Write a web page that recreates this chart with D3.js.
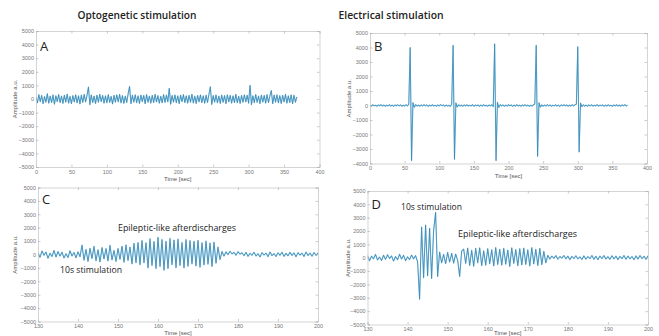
<!DOCTYPE html>
<html>
<head>
<meta charset="utf-8">
<script src="https://cdn.jsdelivr.net/npm/d3@7"></script>
<style>
  body { margin: 0; background: #fff; }
  svg { display: block; }
</style>
</head>
<body>
<svg id="chart" width="659" height="336"></svg>
<script>
// ---- data (amplitude samples, a.u.) ----
// A: optogenetic, full recording, one sample every 2 s from t = 0
const A_START = 0, A_STEP = 2;
const A_VALUES = [
  150,-280,320,-200,260,-350,180,-240,390,-310,
  220,-260,300,-380,240,-190,330,-270,210,-320,
  280,-230,360,-300,190,-340,250,-210,310,-280,
  230,-360,290,-250,340,-220,270,880,-420,300,
  -260,220,-330,280,-240,350,-200,260,-310,230,
  -280,320,-250,190,-360,270,-230,300,-210,340,
  -290,250,-320,210,-260,380,920,-350,280,-240,
  310,-270,230,-330,290,-200,260,-350,320,-240,
  210,-300,270,-260,340,-220,250,-310,200,-280,
  330,-250,290,-210,780,-380,260,-230,300,-270,
  240,-340,280,-200,320,-260,230,-300,270,-240,
  350,-290,210,-330,260,-220,300,-270,240,-310,
  280,-250,330,900,-400,260,-230,300,-280,220,
  -320,290,-240,250,-350,310,-210,270,-300,230,
  -260,340,-280,200,-330,260,-240,300,-220,280,
  -310,1000,-420,240,-270,330,-250,210,-340,290,
  -230,260,-300,320,-260,230,620,-350,290,-240,
  310,-280,250,-330,270,-220,340,-300,230,-260,
  300,-350,280,-240,150
];

// B: electrical, full recording, one sample every 2 s from t = 0
const B_START = 0, B_STEP = 2;
const B_VALUES = [
  30,-40,50,-30,20,-50,40,-20,60,-40,
  30,-50,20,-30,50,-40,30,-60,40,-20,
  50,-30,40,-50,20,-40,60,-30,80,4000,
  -3800,200,-120,60,-40,30,-50,40,-30,50,
  -20,40,-60,30,-40,50,-30,20,-50,40,
  -30,60,-20,40,-50,30,-40,20,-60,90,
  4150,-3700,180,-100,50,-40,30,-50,40,-30,
  50,-40,20,-30,60,-50,30,-20,40,-50,
  30,-40,50,-30,20,-60,40,-30,50,-80,
  4250,-3800,220,-130,60,-30,40,-50,30,-40,
  50,-20,40,-60,30,-40,50,-30,20,-50,
  40,-30,60,-40,30,-50,20,-40,50,100,
  4150,-3500,190,-110,40,-50,30,-40,60,-30,
  40,-50,20,-30,50,-40,30,-60,40,-20,
  50,-30,40,-50,20,-40,60,-30,50,90,
  4050,-3200,170,-90,50,-40,30,-50,40,-30,
  50,-40,20,-30,60,-50,30,-20,40,-50,
  30,-40,50,-30,20,-60,40,-30,50,-40,
  30,-50,40,-20,60,-30,20
];

// C: optogenetic, zoom 130-200 s, one sample every 0.5 s
const C_START = 130, C_STEP = 0.5;
const C_VALUES = [
  120,-210,260,-60,180,-280,90,-150,300,-190,
  220,-120,170,-260,60,-230,280,-110,150,-240,
  200,-170,
  700,-420,380,-520,460,-300,610,-470,350,-560,
  520,-330,440,-480,680,-400,300,-520,450,-360,
  620,-580,720,-450,560,-700,840,-620,
  900,-760,1050,-620,880,-1000,1180,-820,960,-1050,
  1280,-900,1120,-1180,980,-1050,1200,-760,1080,-980,
  1150,-820,900,-1000,1120,-880,1040,-700,980,-860,
  1060,-940,880,-780,1000,-720,860,-900,920,-650,
  560,-380,220,-120,
  200,-10,240,40,160,-60,210,30,130,-90,
  160,-140,90,-60,170,-120,60,-180,140,-40,
  110,-160,180,-90,70,-150,130,-60,170,-140,
  90,-100,160,-70,120,-170,140,-50,100,-150,
  180,-80,110,-130,150,-60,120
];

// D: electrical, zoom 130-200 s, one sample every 0.5 s
const D_START = 130, D_STEP = 0.5;
const D_VALUES = [
  160,-230,120,-80,250,-170,60,-210,190,-120,
  230,-60,140,-250,90,-150,260,-100,180,-220,
  70,-140,200,-90,160,-300,
  -3100,2300,-1500,2450,-1350,2200,-1550,2050,3400,-1400,
  420,-380,260,-450,400,-320,330,-400,280,-200,
  -1400,500,
  650,-420,720,-580,560,-640,700,-380,740,-600,
  520,-560,680,-450,600,-620,760,-500,640,-560,
  700,-480,580,-650,740,-420,620,-600,680,-540,
  720,-500,600,-620,760,-460,640,-580,700,-520,
  480,-380,
  180,-100,130,-50,160,-110,90,-30,170,-80,
  120,-140,100,-60,150,-90,70,-130,140,-110,
  90,-70,170,-120,110,-150,130,-60,160,-100,
  80,-120,150,-90,120,-140,100,-70,170,-110,
  130,-80,90,-150,140,-100,160,-60,110,-120,
  150
];

const FULL_X_TICKS = [0, 50, 100, 150, 200, 250, 300, 350, 400];
const ZOOM_X_TICKS = [130, 140, 150, 160, 170, 180, 190, 200];
const Y_TICKS_10K = [5000, 4000, 3000, 2000, 1000, 0, -1000, -2000, -3000, -4000, -5000];
const Y_TICKS_9K = [5000, 4000, 3000, 2000, 1000, 0, -1000, -2000, -3000, -4000];

const TITLES = ['Optogenetic stimulation', 'Electrical stimulation'];

// ---- drawing ----
const svg = d3.select('#chart');
const TICK_FONT = 'Liberation Sans, Arial, sans-serif';
const NOTE_FONT = "'Open Sans', 'Noto Sans', sans-serif";

function drawPanel(cfg) {
  const x = d3.scaleLinear().domain(cfg.xDomain).range([cfg.left, cfg.right]);
  const y = d3.scaleLinear().domain(cfg.yDomain).range([cfg.bottom, cfg.top]);
  const g = svg.append('g');

  const clipId = 'clip' + cfg.letter;
  g.append('clipPath').attr('id', clipId)
    .append('rect')
    .attr('x', cfg.left).attr('y', cfg.top)
    .attr('width', cfg.right - cfg.left).attr('height', cfg.bottom - cfg.top);

  const line = d3.line()
    .x((d, i) => x(cfg.start + i * cfg.step))
    .y(d => y(d));

  // light halo + darker core, like the overlapping traces of the original
  g.append('path')
    .datum(cfg.values)
    .attr('clip-path', 'url(#' + clipId + ')')
    .attr('fill', 'none')
    .attr('stroke', '#6db6da')
    .attr('stroke-width', 1.1)
    .attr('stroke-linejoin', 'round')
    .attr('d', line);
  g.append('path')
    .datum(cfg.values)
    .attr('clip-path', 'url(#' + clipId + ')')
    .attr('fill', 'none')
    .attr('stroke', '#1c6b9c')
    .attr('stroke-width', 0.45)
    .attr('stroke-opacity', 0.85)
    .attr('stroke-linejoin', 'round')
    .attr('d', line);

  const fmt = d3.format('d');
  const axes = [
    { ax: d3.axisBottom(x).tickValues(cfg.xTicks).tickSize(-2.5).tickPadding(3).tickFormat(fmt), tr: [0, cfg.bottom] },
    { ax: d3.axisTop(x).tickValues(cfg.xTicks).tickSize(-2.5).tickFormat(''), tr: [0, cfg.top] },
    { ax: d3.axisLeft(y).tickValues(cfg.yTicks).tickSize(-2.5).tickPadding(2).tickFormat(fmt), tr: [cfg.left, 0] },
    { ax: d3.axisRight(y).tickValues(cfg.yTicks).tickSize(-2.5).tickFormat(''), tr: [cfg.right, 0] }
  ];
  axes.forEach(a => {
    const ag = g.append('g')
      .attr('transform', 'translate(' + a.tr[0] + ',' + a.tr[1] + ')')
      .call(a.ax);
    ag.select('.domain').attr('stroke', '#c9c9c9').attr('stroke-width', 0.8);
    ag.selectAll('.tick line').attr('stroke', '#aaa').attr('stroke-width', 0.6);
    ag.selectAll('.tick text')
      .attr('font-family', TICK_FONT)
      .attr('font-size', 5.5)
      .attr('fill', '#777');
  });

  g.append('text')
    .attr('x', (cfg.left + cfg.right) / 2)
    .attr('y', Math.min(cfg.bottom + 14, 335))
    .attr('text-anchor', 'middle')
    .attr('font-family', TICK_FONT)
    .attr('font-size', 6)
    .attr('fill', '#555')
    .text('Time [sec]');

  g.append('text')
    .attr('transform', 'translate(' + cfg.yLabelX + ',' + (cfg.top + cfg.bottom) / 2 + ') rotate(-90)')
    .attr('text-anchor', 'middle')
    .attr('font-family', TICK_FONT)
    .attr('font-size', 6)
    .attr('fill', '#555')
    .text('Amplitude a.u.');

  g.append('text')
    .attr('x', cfg.left + 4)
    .attr('y', cfg.top + cfg.letterDy)
    .attr('font-family', NOTE_FONT)
    .attr('font-size', 13)
    .attr('fill', '#222')
    .text(cfg.letter);

  (cfg.notes || []).forEach(n => {
    g.append('text')
      .attr('x', n.x).attr('y', n.y)
      .attr('font-family', NOTE_FONT)
      .attr('font-size', 9)
      .attr('textLength', n.w)
      .attr('lengthAdjust', 'spacingAndGlyphs')
      .attr('fill', '#222')
      .text(n.text);
  });
}

drawPanel({ letter: 'A', left: 36, right: 319.5, top: 31, bottom: 167, yLabelX: 17, letterDy: 20,
  xDomain: [0, 400], yDomain: [-5000, 5000], xTicks: FULL_X_TICKS, yTicks: Y_TICKS_10K,
  start: A_START, step: A_STEP, values: A_VALUES });

drawPanel({ letter: 'B', left: 370, right: 647, top: 33, bottom: 163.5, yLabelX: 351, letterDy: 18,
  xDomain: [0, 400], yDomain: [-4000, 5000], xTicks: FULL_X_TICKS, yTicks: Y_TICKS_9K,
  start: B_START, step: B_STEP, values: B_VALUES });

drawPanel({ letter: 'C', left: 38, right: 318, top: 187.5, bottom: 321.5, yLabelX: 17, letterDy: 16.5,
  xDomain: [130, 200], yDomain: [-5000, 5000], xTicks: ZOOM_X_TICKS, yTicks: Y_TICKS_10K,
  start: C_START, step: C_STEP, values: C_VALUES,
  notes: [
    { text: 'Epileptic-like afterdischarges', x: 118, y: 231, w: 118 },
    { text: '10s stimulation', x: 60, y: 273, w: 62 }
  ] });

drawPanel({ letter: 'D', left: 367.5, right: 648, top: 191, bottom: 324.5, yLabelX: 350, letterDy: 18,
  xDomain: [130, 200], yDomain: [-5000, 5000], xTicks: ZOOM_X_TICKS, yTicks: Y_TICKS_10K,
  start: D_START, step: D_STEP, values: D_VALUES,
  notes: [
    { text: '10s stimulation', x: 401, y: 210, w: 61 },
    { text: 'Epileptic-like afterdischarges', x: 458, y: 237, w: 119 }
  ] });

svg.selectAll('.title')
  .data(TITLES)
  .enter().append('text')
  .attr('class', 'title')
  .attr('x', (d, i) => i === 0 ? 137 : 391)
  .attr('y', 19)
  .attr('text-anchor', 'middle')
  .attr('font-family', NOTE_FONT)
  .attr('font-weight', 600)
  .attr('font-size', 11.5)
  .attr('textLength', (d, i) => i === 0 ? 119 : 105)
  .attr('lengthAdjust', 'spacingAndGlyphs')
  .attr('fill', '#222')
  .text(d => d);
</script>
</body>
</html>
